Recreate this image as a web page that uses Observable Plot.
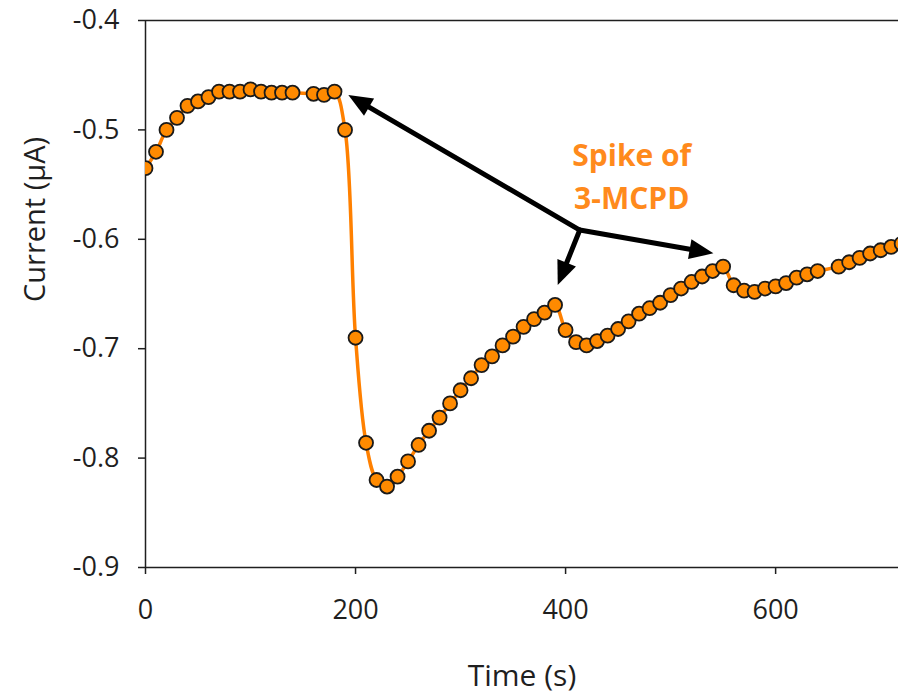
<!DOCTYPE html>
<html><head><meta charset="utf-8">
<script src="https://cdn.jsdelivr.net/npm/d3@7"></script>
<script src="https://cdn.jsdelivr.net/npm/@observablehq/plot@0.6"></script>
<style>
body{margin:0;background:#fff;overflow:hidden}
#chart svg{display:block}
</style>
</head><body><div id="chart"></div>
<script>
const time = [0,10,20,30,40,50,60,70,80,90,100,110,120,130,140,160,170,180,190,200,210,220,230,240,250,260,270,280,290,300,310,320,330,340,350,360,370,380,390,400,410,420,430,440,450,460,470,480,490,500,510,520,530,540,550,560,570,580,590,600,610,620,630,640,660,670,680,690,700,710,720];
const current = [-0.535,-0.520,-0.500,-0.489,-0.478,-0.474,-0.470,-0.465,-0.465,-0.465,-0.463,-0.465,-0.466,-0.466,-0.466,-0.467,-0.468,-0.465,-0.500,-0.690,-0.786,-0.820,-0.826,-0.817,-0.803,-0.788,-0.775,-0.763,-0.750,-0.738,-0.727,-0.715,-0.707,-0.697,-0.689,-0.680,-0.673,-0.667,-0.660,-0.683,-0.694,-0.697,-0.693,-0.688,-0.682,-0.675,-0.668,-0.663,-0.658,-0.651,-0.645,-0.639,-0.634,-0.629,-0.625,-0.642,-0.647,-0.648,-0.645,-0.643,-0.640,-0.635,-0.632,-0.629,-0.625,-0.621,-0.617,-0.613,-0.610,-0.607,-0.604];
const yTicks = [-0.9,-0.8,-0.7,-0.6,-0.5,-0.4];
const xTicks = [0,200,400,600];
const xTitle = "Time (s)";
const yTitle = "Current (µA)";
const annotationText = ["Spike of","3-MCPD"];
const annotationTime = [463];
const annotationCurrent = [-0.540];
const arrowOrigin = [414, -0.592];
const arrowTipsTime = [193.6, 393, 541.2];
const arrowTipsCurrent = [-0.4686, -0.6422, -0.6133];

const data = time.map((t, i) => ({t, c: current[i]}));
const annot = [{t: annotationTime[0], c: annotationCurrent[0], label: annotationText.join("\n")}];

function arrows(index, scales) {
  const g = d3.create("svg:g");
  if (!scales || !scales.x || !scales.y) return g.node();
  const x0 = scales.x(arrowOrigin[0]), y0 = scales.y(arrowOrigin[1]);
  arrowTipsTime.forEach((tt, i) => {
    const x1 = scales.x(tt), y1 = scales.y(arrowTipsCurrent[i]);
    const dx = x1 - x0, dy = y1 - y0, L = Math.hypot(dx, dy), ux = dx / L, uy = dy / L;
    const hl = 24, hw = 10;
    const bx = x1 - ux * hl, by = y1 - uy * hl;
    g.append("line").attr("x1", x0).attr("y1", y0).attr("x2", bx + ux * 3).attr("y2", by + uy * 3)
      .attr("stroke", "#000").attr("stroke-width", 5).attr("stroke-linecap", "round");
    g.append("path").attr("d", `M${x1},${y1}L${bx - uy * hw},${by + ux * hw}L${bx + uy * hw},${by - ux * hw}Z`)
      .attr("fill", "#000");
  });
  return g.node();
}

const chart = Plot.plot({
  width: 898,
  height: 696,
  marginLeft: 145,
  marginRight: 0,
  marginTop: 20,
  marginBottom: 129,
  style: {fontFamily: "'Open Sans', sans-serif", fontSize: "27px", color: "#1f1f1f", background: "white", overflow: "hidden"},
  x: {domain: [0, 717]},
  y: {domain: [-0.9, -0.4]},
  marks: [
    Plot.axisY({ticks: yTicks, tickFormat: d => d.toFixed(1), tickSize: 7, tickPadding: 19, label: null, fontSize: 27, strokeWidth: 1.5}),
    Plot.axisX({ticks: xTicks, tickFormat: d => String(d), tickSize: 7, tickPadding: 25, label: null, fontSize: 27, strokeWidth: 1.5}),
    Plot.ruleY([-0.4, -0.9], {stroke: "#1f1f1f", strokeWidth: 1.5}),
    Plot.ruleX([0], {stroke: "#1f1f1f", strokeWidth: 1.5}),
    Plot.text([yTitle], {frameAnchor: "left", rotate: -90, dx: -110, dy: 8, fontSize: 29, fill: "#1f1f1f", lineAnchor: "middle"}),
    Plot.text([xTitle], {frameAnchor: "bottom", dy: 109, fontSize: 30, fill: "#1f1f1f", lineAnchor: "middle"}),
    Plot.line(data, {x: "t", y: "c", curve: "catmull-rom", stroke: "#FF8000", strokeWidth: 3.5, clip: true}),
    Plot.dot(data, {x: "t", y: "c", r: 7, fill: "#FF8A00", stroke: "#1a1a1a", strokeWidth: 1.8, clip: true}),
    arrows,
    Plot.text(annot, {x: "t", y: "c", text: "label", fill: "#FF8A1C", fontWeight: "bold", fontSize: 30, lineHeight: 1.45, textAnchor: "middle"})
  ]
});
document.getElementById("chart").append(chart);
</script>
</body></html>
